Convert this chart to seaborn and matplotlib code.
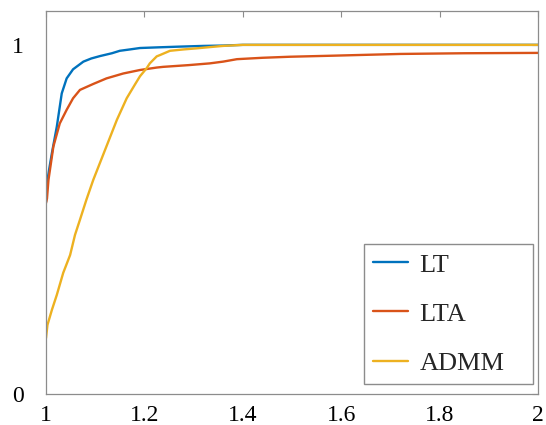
import numpy as np
import pandas as pd
import matplotlib
matplotlib.use("Agg")
import matplotlib.pyplot as plt
import seaborn as sns

# ---- data ----
LT_t = [1.000, 1.001, 1.006, 1.012, 1.022, 1.032, 1.042, 1.055, 1.076, 1.092,
        1.110, 1.134, 1.150, 1.171, 1.191, 1.230, 1.272, 1.320, 1.360, 1.400, 2.000]
LT_v = [0.550, 0.594, 0.640, 0.690, 0.766, 0.861, 0.904, 0.930, 0.952, 0.961,
        0.968, 0.976, 0.983, 0.987, 0.991, 0.993, 0.995, 0.997, 0.998, 1.000, 1.000]

LTA_t = [1.000, 1.002, 1.005, 1.015, 1.028, 1.042, 1.055, 1.069, 1.096, 1.123,
         1.157, 1.191, 1.225, 1.238, 1.290, 1.333, 1.360, 1.388, 1.440, 1.496,
         1.583, 1.720, 1.850, 2.000]
LTA_v = [0.547, 0.560, 0.613, 0.709, 0.775, 0.814, 0.847, 0.871, 0.888, 0.904,
         0.918, 0.928, 0.935, 0.937, 0.942, 0.947, 0.952, 0.959, 0.963, 0.966,
         0.969, 0.974, 0.976, 0.977]

ADMM_t = [1.000, 1.003, 1.012, 1.022, 1.035, 1.049, 1.059, 1.069, 1.082, 1.096,
          1.120, 1.144, 1.164, 1.181, 1.191, 1.205, 1.211, 1.225, 1.232, 1.252,
          1.280, 1.306, 1.336, 1.360, 1.400, 2.000]
ADMM_v = [0.160, 0.198, 0.241, 0.284, 0.347, 0.398, 0.456, 0.499, 0.556, 0.613,
          0.699, 0.785, 0.847, 0.887, 0.910, 0.934, 0.947, 0.967, 0.971, 0.983,
          0.987, 0.990, 0.994, 0.997, 1.000, 1.000]

series_names = ["LT", "LTA", "ADMM"]
series_colors = ["#0072BD", "#D95319", "#EDB120"]
x_ticks = [1, 1.2, 1.4, 1.6, 1.8, 2]
x_tick_labels = ["1", "1.2", "1.4", "1.6", "1.8", "2"]
y_ticks = [0, 1]
y_tick_labels = ["0", "1"]

frames = []
for name, t, v in zip(series_names, [LT_t, LTA_t, ADMM_t], [LT_v, LTA_v, ADMM_v]):
    frames.append(pd.DataFrame({"t": t, "v": v, "method": name}))
df = pd.concat(frames, ignore_index=True)

sns.set_style("white")
plt.rcParams["font.family"] = ["Liberation Serif", "DejaVu Serif"]

fig = plt.figure(figsize=(5.46, 4.25), dpi=100)
ax = fig.add_axes([46 / 546, 31 / 425, 492 / 546, 383 / 425])

sns.lineplot(data=df, x="t", y="v", hue="method", hue_order=series_names,
             palette=series_colors, estimator=None, sort=False,
             linewidth=1.7, ax=ax)

ax.set_xlim(1, 2)
ax.set_ylim(0, 1.097)
ax.set_xticks(x_ticks)
ax.set_xticklabels(x_tick_labels)
ax.set_yticks(y_ticks)
ax.set_yticklabels(y_tick_labels)
ax.set_xlabel("")
ax.set_ylabel("")

for s in ax.spines.values():
    s.set_visible(True)
    s.set_color("#8c8c8c")
    s.set_linewidth(0.9)

ax.tick_params(axis="both", which="both", direction="in", length=4, width=0.8,
               color="#8c8c8c", labelsize=17, labelcolor="black",
               top=True, right=True)
ax.tick_params(axis="x", pad=8)
ax.tick_params(axis="y", pad=16)

leg = ax.legend(loc="lower left",
                bbox_to_anchor=(318 / 492, 10 / 383, 169 / 492, 141 / 383),
                mode="expand", fontsize=19, frameon=True, fancybox=False,
                framealpha=1, edgecolor="#8c8c8c", handlelength=1.3,
                handletextpad=0.45, labelspacing=0.97, borderpad=0.35,
                borderaxespad=0)
leg.get_frame().set_linewidth(1.0)
for line in leg.get_lines():
    line.set_linewidth(1.7)

fig.savefig("out.png", dpi=100)
